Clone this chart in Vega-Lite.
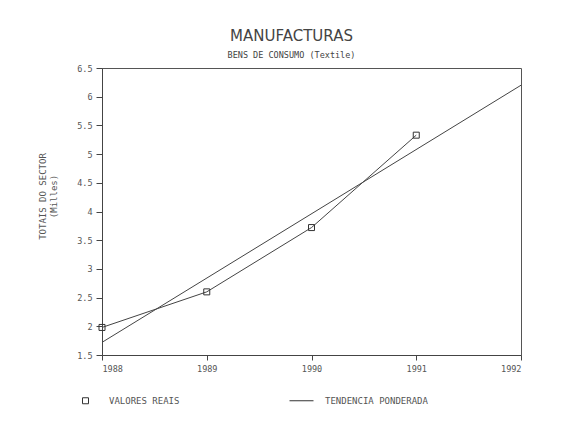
{
  "$schema": "https://vega.github.io/schema/vega-lite/v6.json",
  "autosize": {"type": "none"},
  "width": 419,
  "height": 287,
  "padding": {"left": 102, "top": 68, "right": 56, "bottom": 75},
  "background": "white",
  "title": {
    "text": "MANUFACTURAS",
    "subtitle": "BENS DE CONSUMO (Textile)",
    "anchor": "middle",
    "dx": -20,
    "offset": 5,
    "font": "DejaVu Sans",
    "fontSize": 15,
    "fontWeight": "normal",
    "color": "#444",
    "subtitleFont": "DejaVu Sans Mono",
    "subtitleFontSize": 8.5,
    "subtitleColor": "#444",
    "subtitlePadding": 7
  },
  "data": {
    "values": [
      {"year": 1988, "value": 1.98, "series": "VALORES REAIS"},
      {"year": 1989, "value": 2.6, "series": "VALORES REAIS"},
      {"year": 1990, "value": 3.72, "series": "VALORES REAIS"},
      {"year": 1991, "value": 5.33, "series": "VALORES REAIS"},
      {"year": 1988, "value": 1.72, "series": "TENDENCIA PONDERADA"},
      {"year": 1992, "value": 6.2, "series": "TENDENCIA PONDERADA"}
    ]
  },
  "encoding": {
    "x": {
      "field": "year",
      "type": "quantitative",
      "scale": {"domain": [1988, 1992], "nice": false, "zero": false},
      "axis": {
        "values": [1988, 1989, 1990, 1991, 1992],
        "format": "d",
        "title": null,
        "grid": false,
        "tickSize": 5,
        "labelPadding": 4
      }
    },
    "y": {
      "field": "value",
      "type": "quantitative",
      "scale": {"domain": [1.5, 6.5], "nice": false, "zero": false},
      "axis": {
        "values": [1.5, 2, 2.5, 3, 3.5, 4, 4.5, 5, 5.5, 6, 6.5],
        "format": "~g",
        "title": ["TOTAIS DO SECTOR", "(Milles)"],
        "titleAngle": -90,
        "titleX": -64,
        "titleY": 128,
        "titleAlign": "center",
        "titleBaseline": "top",
        "titleLineHeight": 11,
        "grid": false,
        "tickSize": 6,
        "labelPadding": 4
      }
    }
  },
  "layer": [
    {
      "mark": {"type": "line", "color": "#444", "strokeWidth": 1},
      "encoding": {"detail": {"field": "series"}}
    },
    {
      "transform": [{"filter": "datum.series == 'VALORES REAIS'"}],
      "mark": {"type": "point", "filled": false, "color": "#333", "strokeWidth": 1, "size": 576, "opacity": 1},
      "encoding": {
        "shape": {
          "field": "series",
          "type": "nominal",
          "scale": {
            "domain": ["VALORES REAIS", "TENDENCIA PONDERADA"],
            "range": ["M-0.25,-0.25H0.25V0.25H-0.25Z", "M-1,0H1"]
          },
          "legend": {
            "title": null,
            "orient": "none",
            "direction": "horizontal",
            "legendX": -29,
            "legendY": 320,
            "padding": 0,
            "symbolSize": 576,
            "symbolStrokeColor": "#333",
            "symbolStrokeWidth": 1,
            "symbolFillColor": "transparent",
            "labelOffset": 11,
            "columnPadding": 107,
            "labelFont": "DejaVu Sans Mono",
            "labelFontSize": 9,
            "labelColor": "#555"
          }
        }
      }
    }
  ],
  "config": {
    "view": {"stroke": "#555", "strokeWidth": 1},
    "axis": {
      "domainColor": "#444",
      "tickColor": "#444",
      "labelFont": "DejaVu Sans Mono",
      "labelFontSize": 8.5,
      "labelColor": "#555",
      "titleFont": "DejaVu Sans Mono",
      "titleFontSize": 9,
      "titleFontWeight": "normal",
      "titleColor": "#555"
    }
  }
}
